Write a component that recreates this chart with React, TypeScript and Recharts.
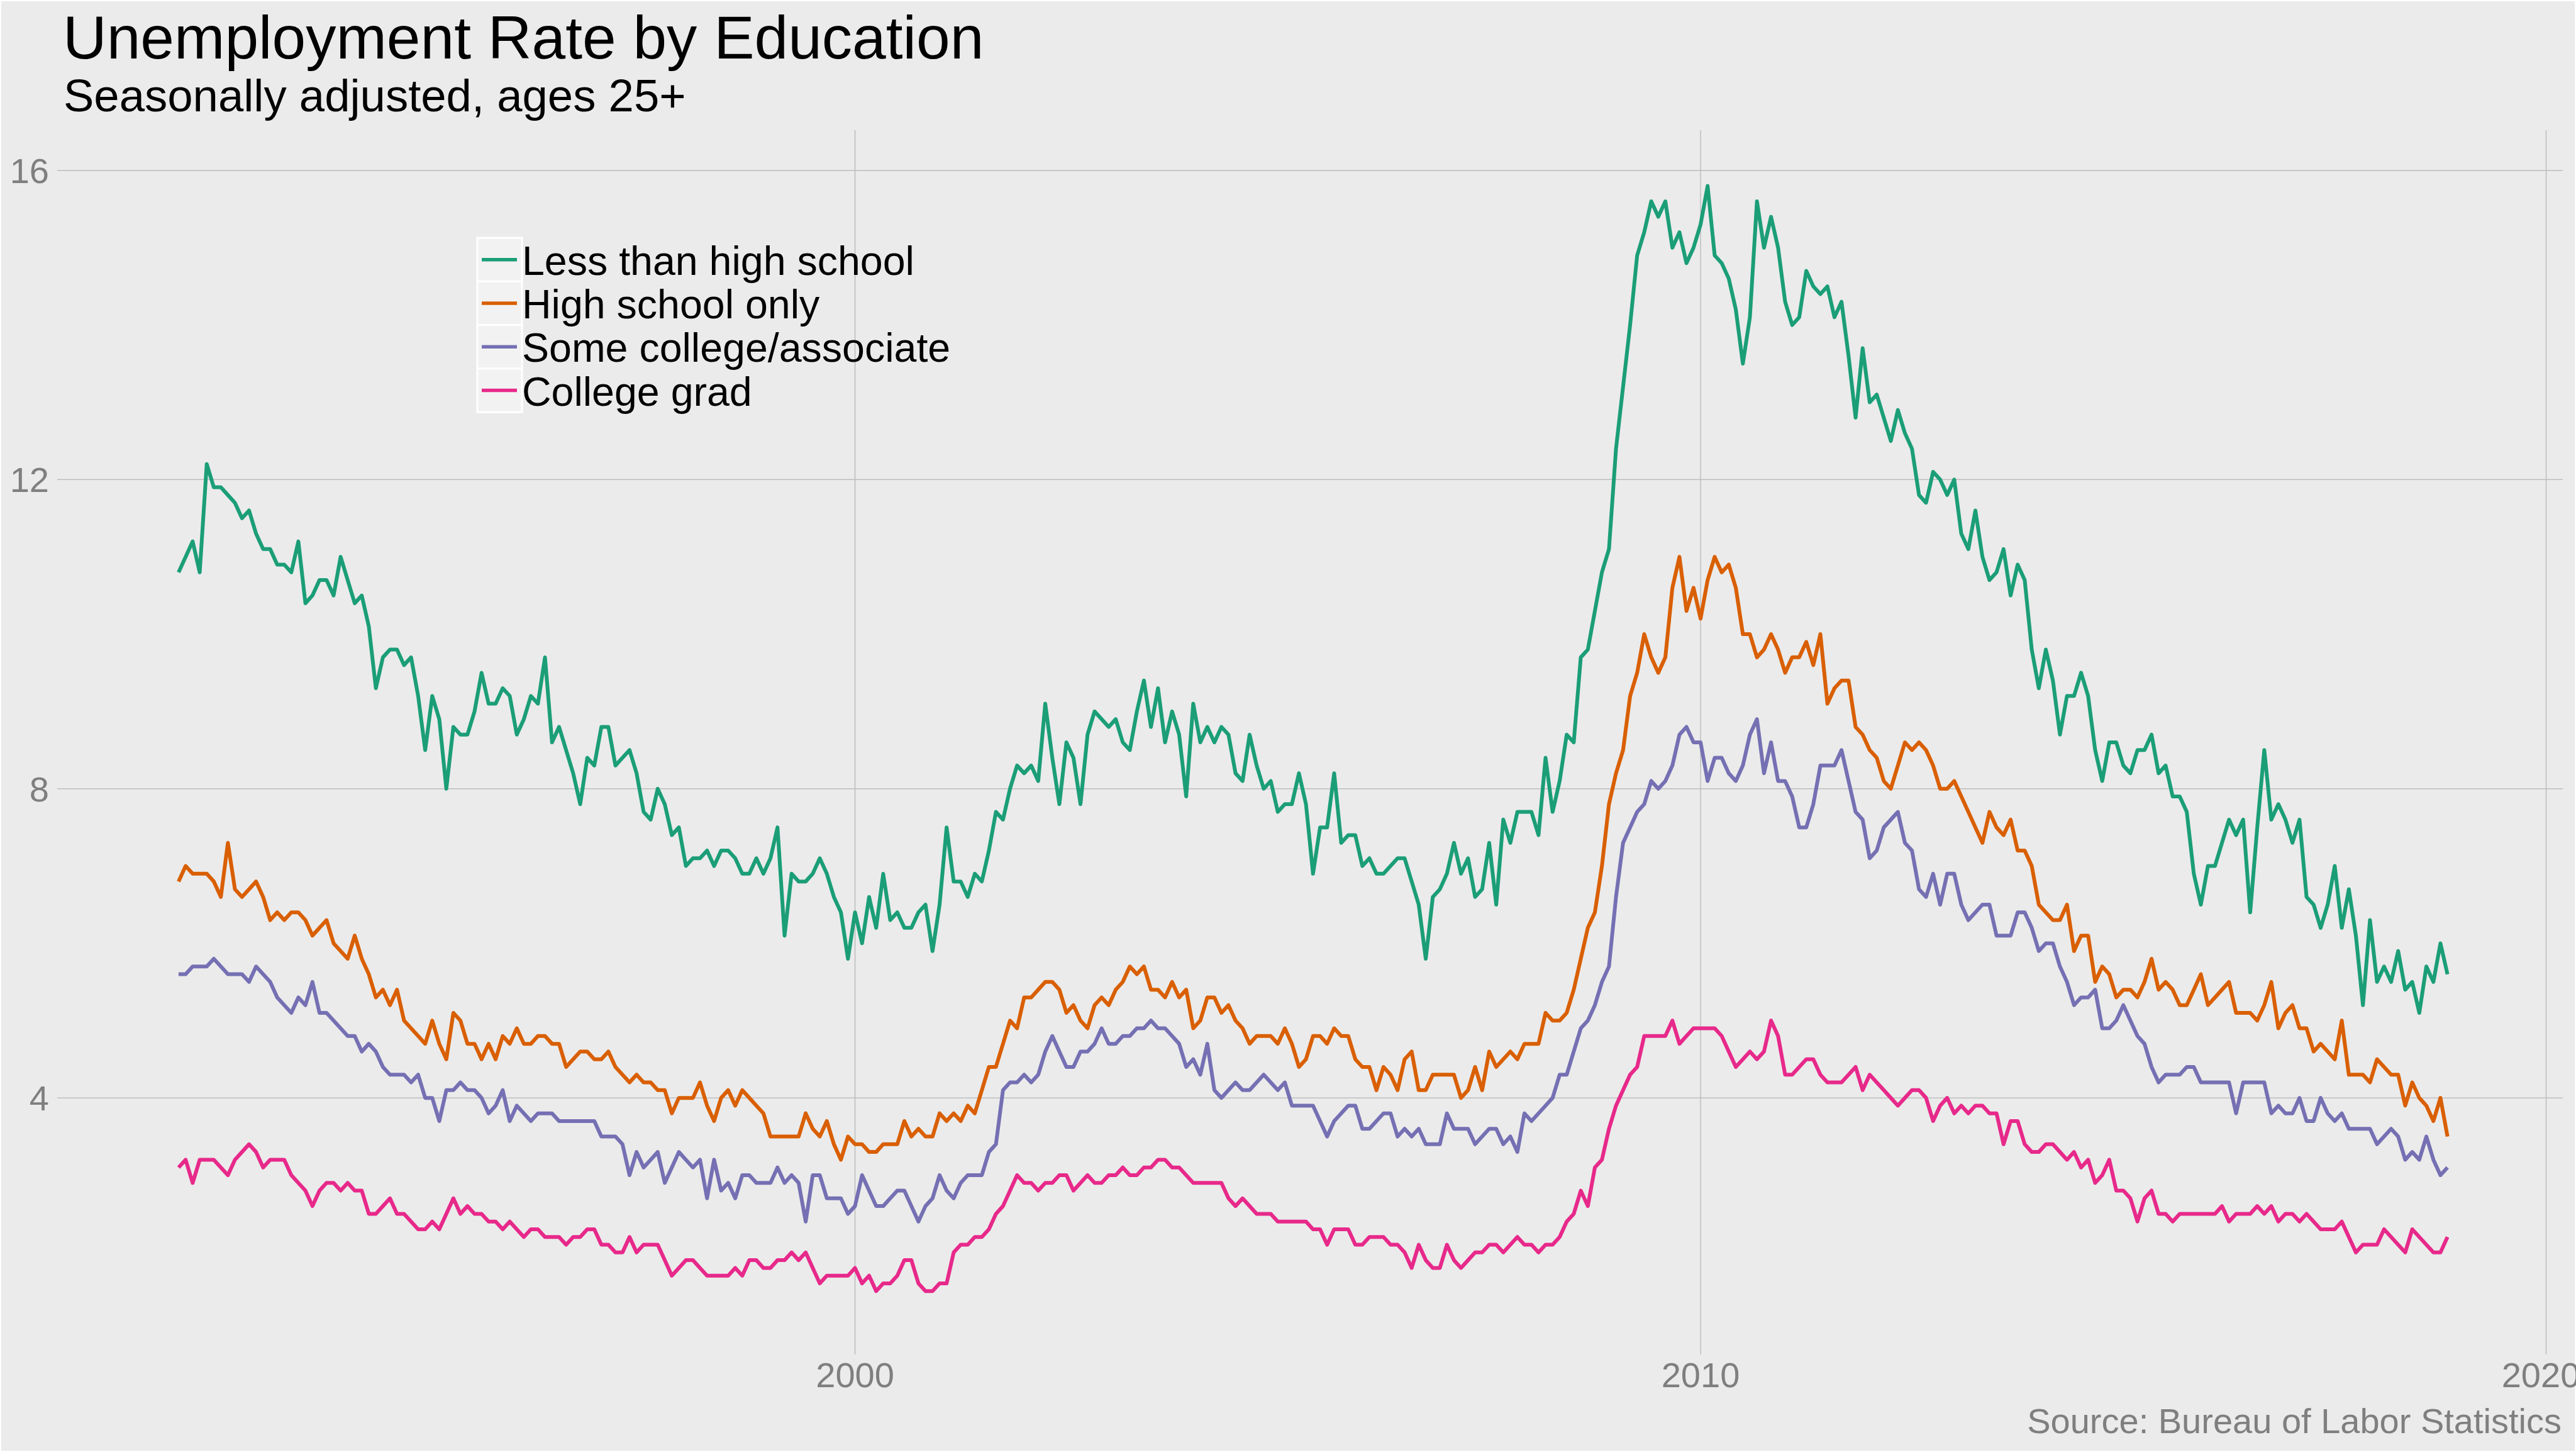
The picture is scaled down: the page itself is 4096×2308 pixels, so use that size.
import { LineChart, Line, XAxis, YAxis, ReferenceLine, Legend } from 'recharts';

// monthly, Jan 1992 .. Nov 2018
const startYear = 1992;

const lessThanHighSchool = [
  10.8, 11.0, 11.2, 10.8, 12.2, 11.9, 11.9, 11.8, 11.7, 11.5, 11.6, 11.3, // 1992
  11.1, 11.1, 10.9, 10.9, 10.8, 11.2, 10.4, 10.5, 10.7, 10.7, 10.5, 11.0, // 1993
  10.7, 10.4, 10.5, 10.1, 9.3, 9.7, 9.8, 9.8, 9.6, 9.7, 9.2, 8.5, // 1994
  9.2, 8.9, 8.0, 8.8, 8.7, 8.7, 9.0, 9.5, 9.1, 9.1, 9.3, 9.2, // 1995
  8.7, 8.9, 9.2, 9.1, 9.7, 8.6, 8.8, 8.5, 8.2, 7.8, 8.4, 8.3, // 1996
  8.8, 8.8, 8.3, 8.4, 8.5, 8.2, 7.7, 7.6, 8.0, 7.8, 7.4, 7.5, // 1997
  7.0, 7.1, 7.1, 7.2, 7.0, 7.2, 7.2, 7.1, 6.9, 6.9, 7.1, 6.9, // 1998
  7.1, 7.5, 6.1, 6.9, 6.8, 6.8, 6.9, 7.1, 6.9, 6.6, 6.4, 5.8, // 1999
  6.4, 6.0, 6.6, 6.2, 6.9, 6.3, 6.4, 6.2, 6.2, 6.4, 6.5, 5.9, // 2000
  6.5, 7.5, 6.8, 6.8, 6.6, 6.9, 6.8, 7.2, 7.7, 7.6, 8.0, 8.3, // 2001
  8.2, 8.3, 8.1, 9.1, 8.4, 7.8, 8.6, 8.4, 7.8, 8.7, 9.0, 8.9, // 2002
  8.8, 8.9, 8.6, 8.5, 9.0, 9.4, 8.8, 9.3, 8.6, 9.0, 8.7, 7.9, // 2003
  9.1, 8.6, 8.8, 8.6, 8.8, 8.7, 8.2, 8.1, 8.7, 8.3, 8.0, 8.1, // 2004
  7.7, 7.8, 7.8, 8.2, 7.8, 6.9, 7.5, 7.5, 8.2, 7.3, 7.4, 7.4, // 2005
  7.0, 7.1, 6.9, 6.9, 7.0, 7.1, 7.1, 6.8, 6.5, 5.8, 6.6, 6.7, // 2006
  6.9, 7.3, 6.9, 7.1, 6.6, 6.7, 7.3, 6.5, 7.6, 7.3, 7.7, 7.7, // 2007
  7.7, 7.4, 8.4, 7.7, 8.1, 8.7, 8.6, 9.7, 9.8, 10.3, 10.8, 11.1, // 2008
  12.4, 13.2, 14.0, 14.9, 15.2, 15.6, 15.4, 15.6, 15.0, 15.2, 14.8, 15.0, // 2009
  15.3, 15.8, 14.9, 14.8, 14.6, 14.2, 13.5, 14.1, 15.6, 15.0, 15.4, 15.0, // 2010
  14.3, 14.0, 14.1, 14.7, 14.5, 14.4, 14.5, 14.1, 14.3, 13.6, 12.8, 13.7, // 2011
  13.0, 13.1, 12.8, 12.5, 12.9, 12.6, 12.4, 11.8, 11.7, 12.1, 12.0, 11.8, // 2012
  12.0, 11.3, 11.1, 11.6, 11.0, 10.7, 10.8, 11.1, 10.5, 10.9, 10.7, 9.8, // 2013
  9.3, 9.8, 9.4, 8.7, 9.2, 9.2, 9.5, 9.2, 8.5, 8.1, 8.6, 8.6, // 2014
  8.3, 8.2, 8.5, 8.5, 8.7, 8.2, 8.3, 7.9, 7.9, 7.7, 6.9, 6.5, // 2015
  7.0, 7.0, 7.3, 7.6, 7.4, 7.6, 6.4, 7.5, 8.5, 7.6, 7.8, 7.6, // 2016
  7.3, 7.6, 6.6, 6.5, 6.2, 6.5, 7.0, 6.2, 6.7, 6.1, 5.2, 6.3, // 2017
  5.5, 5.7, 5.5, 5.9, 5.4, 5.5, 5.1, 5.7, 5.5, 6.0, 5.6, // 2018
];

const highSchoolOnly = [
  6.8, 7.0, 6.9, 6.9, 6.9, 6.8, 6.6, 7.3, 6.7, 6.6, 6.7, 6.8, // 1992
  6.6, 6.3, 6.4, 6.3, 6.4, 6.4, 6.3, 6.1, 6.2, 6.3, 6.0, 5.9, // 1993
  5.8, 6.1, 5.8, 5.6, 5.3, 5.4, 5.2, 5.4, 5.0, 4.9, 4.8, 4.7, // 1994
  5.0, 4.7, 4.5, 5.1, 5.0, 4.7, 4.7, 4.5, 4.7, 4.5, 4.8, 4.7, // 1995
  4.9, 4.7, 4.7, 4.8, 4.8, 4.7, 4.7, 4.4, 4.5, 4.6, 4.6, 4.5, // 1996
  4.5, 4.6, 4.4, 4.3, 4.2, 4.3, 4.2, 4.2, 4.1, 4.1, 3.8, 4.0, // 1997
  4.0, 4.0, 4.2, 3.9, 3.7, 4.0, 4.1, 3.9, 4.1, 4.0, 3.9, 3.8, // 1998
  3.5, 3.5, 3.5, 3.5, 3.5, 3.8, 3.6, 3.5, 3.7, 3.4, 3.2, 3.5, // 1999
  3.4, 3.4, 3.3, 3.3, 3.4, 3.4, 3.4, 3.7, 3.5, 3.6, 3.5, 3.5, // 2000
  3.8, 3.7, 3.8, 3.7, 3.9, 3.8, 4.1, 4.4, 4.4, 4.7, 5.0, 4.9, // 2001
  5.3, 5.3, 5.4, 5.5, 5.5, 5.4, 5.1, 5.2, 5.0, 4.9, 5.2, 5.3, // 2002
  5.2, 5.4, 5.5, 5.7, 5.6, 5.7, 5.4, 5.4, 5.3, 5.5, 5.3, 5.4, // 2003
  4.9, 5.0, 5.3, 5.3, 5.1, 5.2, 5.0, 4.9, 4.7, 4.8, 4.8, 4.8, // 2004
  4.7, 4.9, 4.7, 4.4, 4.5, 4.8, 4.8, 4.7, 4.9, 4.8, 4.8, 4.5, // 2005
  4.4, 4.4, 4.1, 4.4, 4.3, 4.1, 4.5, 4.6, 4.1, 4.1, 4.3, 4.3, // 2006
  4.3, 4.3, 4.0, 4.1, 4.4, 4.1, 4.6, 4.4, 4.5, 4.6, 4.5, 4.7, // 2007
  4.7, 4.7, 5.1, 5.0, 5.0, 5.1, 5.4, 5.8, 6.2, 6.4, 7.0, 7.8, // 2008
  8.2, 8.5, 9.2, 9.5, 10.0, 9.7, 9.5, 9.7, 10.6, 11.0, 10.3, 10.6, // 2009
  10.2, 10.7, 11.0, 10.8, 10.9, 10.6, 10.0, 10.0, 9.7, 9.8, 10.0, 9.8, // 2010
  9.5, 9.7, 9.7, 9.9, 9.6, 10.0, 9.1, 9.3, 9.4, 9.4, 8.8, 8.7, // 2011
  8.5, 8.4, 8.1, 8.0, 8.3, 8.6, 8.5, 8.6, 8.5, 8.3, 8.0, 8.0, // 2012
  8.1, 7.9, 7.7, 7.5, 7.3, 7.7, 7.5, 7.4, 7.6, 7.2, 7.2, 7.0, // 2013
  6.5, 6.4, 6.3, 6.3, 6.5, 5.9, 6.1, 6.1, 5.5, 5.7, 5.6, 5.3, // 2014
  5.4, 5.4, 5.3, 5.5, 5.8, 5.4, 5.5, 5.4, 5.2, 5.2, 5.4, 5.6, // 2015
  5.2, 5.3, 5.4, 5.5, 5.1, 5.1, 5.1, 5.0, 5.2, 5.5, 4.9, 5.1, // 2016
  5.2, 4.9, 4.9, 4.6, 4.7, 4.6, 4.5, 5.0, 4.3, 4.3, 4.3, 4.2, // 2017
  4.5, 4.4, 4.3, 4.3, 3.9, 4.2, 4.0, 3.9, 3.7, 4.0, 3.5, // 2018
];

const someCollege = [
  5.6, 5.6, 5.7, 5.7, 5.7, 5.8, 5.7, 5.6, 5.6, 5.6, 5.5, 5.7, // 1992
  5.6, 5.5, 5.3, 5.2, 5.1, 5.3, 5.2, 5.5, 5.1, 5.1, 5.0, 4.9, // 1993
  4.8, 4.8, 4.6, 4.7, 4.6, 4.4, 4.3, 4.3, 4.3, 4.2, 4.3, 4.0, // 1994
  4.0, 3.7, 4.1, 4.1, 4.2, 4.1, 4.1, 4.0, 3.8, 3.9, 4.1, 3.7, // 1995
  3.9, 3.8, 3.7, 3.8, 3.8, 3.8, 3.7, 3.7, 3.7, 3.7, 3.7, 3.7, // 1996
  3.5, 3.5, 3.5, 3.4, 3.0, 3.3, 3.1, 3.2, 3.3, 2.9, 3.1, 3.3, // 1997
  3.2, 3.1, 3.2, 2.7, 3.2, 2.8, 2.9, 2.7, 3.0, 3.0, 2.9, 2.9, // 1998
  2.9, 3.1, 2.9, 3.0, 2.9, 2.4, 3.0, 3.0, 2.7, 2.7, 2.7, 2.5, // 1999
  2.6, 3.0, 2.8, 2.6, 2.6, 2.7, 2.8, 2.8, 2.6, 2.4, 2.6, 2.7, // 2000
  3.0, 2.8, 2.7, 2.9, 3.0, 3.0, 3.0, 3.3, 3.4, 4.1, 4.2, 4.2, // 2001
  4.3, 4.2, 4.3, 4.6, 4.8, 4.6, 4.4, 4.4, 4.6, 4.6, 4.7, 4.9, // 2002
  4.7, 4.7, 4.8, 4.8, 4.9, 4.9, 5.0, 4.9, 4.9, 4.8, 4.7, 4.4, // 2003
  4.5, 4.3, 4.7, 4.1, 4.0, 4.1, 4.2, 4.1, 4.1, 4.2, 4.3, 4.2, // 2004
  4.1, 4.2, 3.9, 3.9, 3.9, 3.9, 3.7, 3.5, 3.7, 3.8, 3.9, 3.9, // 2005
  3.6, 3.6, 3.7, 3.8, 3.8, 3.5, 3.6, 3.5, 3.6, 3.4, 3.4, 3.4, // 2006
  3.8, 3.6, 3.6, 3.6, 3.4, 3.5, 3.6, 3.6, 3.4, 3.5, 3.3, 3.8, // 2007
  3.7, 3.8, 3.9, 4.0, 4.3, 4.3, 4.6, 4.9, 5.0, 5.2, 5.5, 5.7, // 2008
  6.6, 7.3, 7.5, 7.7, 7.8, 8.1, 8.0, 8.1, 8.3, 8.7, 8.8, 8.6, // 2009
  8.6, 8.1, 8.4, 8.4, 8.2, 8.1, 8.3, 8.7, 8.9, 8.2, 8.6, 8.1, // 2010
  8.1, 7.9, 7.5, 7.5, 7.8, 8.3, 8.3, 8.3, 8.5, 8.1, 7.7, 7.6, // 2011
  7.1, 7.2, 7.5, 7.6, 7.7, 7.3, 7.2, 6.7, 6.6, 6.9, 6.5, 6.9, // 2012
  6.9, 6.5, 6.3, 6.4, 6.5, 6.5, 6.1, 6.1, 6.1, 6.4, 6.4, 6.2, // 2013
  5.9, 6.0, 6.0, 5.7, 5.5, 5.2, 5.3, 5.3, 5.4, 4.9, 4.9, 5.0, // 2014
  5.2, 5.0, 4.8, 4.7, 4.4, 4.2, 4.3, 4.3, 4.3, 4.4, 4.4, 4.2, // 2015
  4.2, 4.2, 4.2, 4.2, 3.8, 4.2, 4.2, 4.2, 4.2, 3.8, 3.9, 3.8, // 2016
  3.8, 4.0, 3.7, 3.7, 4.0, 3.8, 3.7, 3.8, 3.6, 3.6, 3.6, 3.6, // 2017
  3.4, 3.5, 3.6, 3.5, 3.2, 3.3, 3.2, 3.5, 3.2, 3.0, 3.1, // 2018
];

const collegeGrad = [
  3.1, 3.2, 2.9, 3.2, 3.2, 3.2, 3.1, 3.0, 3.2, 3.3, 3.4, 3.3, // 1992
  3.1, 3.2, 3.2, 3.2, 3.0, 2.9, 2.8, 2.6, 2.8, 2.9, 2.9, 2.8, // 1993
  2.9, 2.8, 2.8, 2.5, 2.5, 2.6, 2.7, 2.5, 2.5, 2.4, 2.3, 2.3, // 1994
  2.4, 2.3, 2.5, 2.7, 2.5, 2.6, 2.5, 2.5, 2.4, 2.4, 2.3, 2.4, // 1995
  2.3, 2.2, 2.3, 2.3, 2.2, 2.2, 2.2, 2.1, 2.2, 2.2, 2.3, 2.3, // 1996
  2.1, 2.1, 2.0, 2.0, 2.2, 2.0, 2.1, 2.1, 2.1, 1.9, 1.7, 1.8, // 1997
  1.9, 1.9, 1.8, 1.7, 1.7, 1.7, 1.7, 1.8, 1.7, 1.9, 1.9, 1.8, // 1998
  1.8, 1.9, 1.9, 2.0, 1.9, 2.0, 1.8, 1.6, 1.7, 1.7, 1.7, 1.7, // 1999
  1.8, 1.6, 1.7, 1.5, 1.6, 1.6, 1.7, 1.9, 1.9, 1.6, 1.5, 1.5, // 2000
  1.6, 1.6, 2.0, 2.1, 2.1, 2.2, 2.2, 2.3, 2.5, 2.6, 2.8, 3.0, // 2001
  2.9, 2.9, 2.8, 2.9, 2.9, 3.0, 3.0, 2.8, 2.9, 3.0, 2.9, 2.9, // 2002
  3.0, 3.0, 3.1, 3.0, 3.0, 3.1, 3.1, 3.2, 3.2, 3.1, 3.1, 3.0, // 2003
  2.9, 2.9, 2.9, 2.9, 2.9, 2.7, 2.6, 2.7, 2.6, 2.5, 2.5, 2.5, // 2004
  2.4, 2.4, 2.4, 2.4, 2.4, 2.3, 2.3, 2.1, 2.3, 2.3, 2.3, 2.1, // 2005
  2.1, 2.2, 2.2, 2.2, 2.1, 2.1, 2.0, 1.8, 2.1, 1.9, 1.8, 1.8, // 2006
  2.1, 1.9, 1.8, 1.9, 2.0, 2.0, 2.1, 2.1, 2.0, 2.1, 2.2, 2.1, // 2007
  2.1, 2.0, 2.1, 2.1, 2.2, 2.4, 2.5, 2.8, 2.6, 3.1, 3.2, 3.6, // 2008
  3.9, 4.1, 4.3, 4.4, 4.8, 4.8, 4.8, 4.8, 5.0, 4.7, 4.8, 4.9, // 2009
  4.9, 4.9, 4.9, 4.8, 4.6, 4.4, 4.5, 4.6, 4.5, 4.6, 5.0, 4.8, // 2010
  4.3, 4.3, 4.4, 4.5, 4.5, 4.3, 4.2, 4.2, 4.2, 4.3, 4.4, 4.1, // 2011
  4.3, 4.2, 4.1, 4.0, 3.9, 4.0, 4.1, 4.1, 4.0, 3.7, 3.9, 4.0, // 2012
  3.8, 3.9, 3.8, 3.9, 3.9, 3.8, 3.8, 3.4, 3.7, 3.7, 3.4, 3.3, // 2013
  3.3, 3.4, 3.4, 3.3, 3.2, 3.3, 3.1, 3.2, 2.9, 3.0, 3.2, 2.8, // 2014
  2.8, 2.7, 2.4, 2.7, 2.8, 2.5, 2.5, 2.4, 2.5, 2.5, 2.5, 2.5, // 2015
  2.5, 2.5, 2.6, 2.4, 2.5, 2.5, 2.5, 2.6, 2.5, 2.6, 2.4, 2.5, // 2016
  2.5, 2.4, 2.5, 2.4, 2.3, 2.3, 2.3, 2.4, 2.2, 2.0, 2.1, 2.1, // 2017
  2.1, 2.3, 2.2, 2.1, 2.0, 2.3, 2.2, 2.1, 2.0, 2.0, 2.2, // 2018
];

const series = [
  { key: 'lths', name: 'Less than high school', color: '#1B9E77', values: lessThanHighSchool },
  { key: 'hs', name: 'High school only', color: '#D95F02', values: highSchoolOnly },
  { key: 'some', name: 'Some college/associate', color: '#7570B3', values: someCollege },
  { key: 'grad', name: 'College grad', color: '#E7298A', values: collegeGrad },
];

const xTicks = [2000, 2010, 2020];
const yTicks = [4, 8, 12, 16];

const data = lessThanHighSchool.map((_, i) => {
  const row: Record<string, number> = { t: startYear + i / 12 };
  series.forEach((s) => {
    row[s.key] = s.values[i];
  });
  return row;
});

const W = 4096;
const H = 2308;
const FONT = "'Liberation Sans', Arial, Helvetica, sans-serif";
const BG = '#EBEBEB';
const GREY = '#7F7F7F';
const GRID = '#BDBDBD';
const ROW = 69.3;

function LegendBox() {
  return (
    <svg width={760} height={4 * ROW + 4} style={{ display: 'block', overflow: 'visible' }}>
      {series.map((s, i) => (
        <g key={s.key} transform={`translate(0, ${i * ROW})`}>
          <rect x={0} y={0} width={71} height={ROW} fill="#F2F2F2" stroke="#FFFFFF" strokeWidth={3} />
          <line x1={7} x2={63} y1={ROW / 2} y2={ROW / 2} stroke={s.color} strokeWidth={5.5} />
          <text x={71} y={ROW / 2 + 24} fontSize={64.5} fill="#000000" fontFamily={FONT}>
            {s.name}
          </text>
        </g>
      ))}
    </svg>
  );
}

export default function App() {
  return (
    <div
      style={{
        position: 'absolute',
        left: 0,
        top: 0,
        width: W,
        height: H,
        background: BG,
        fontFamily: FONT,
        boxShadow: 'inset 0 0 0 2px #FFFFFF',
      }}
    >
      <LineChart width={W} height={H} data={data} margin={{ top: 207, right: 21, bottom: 0, left: 0 }}>
        <XAxis
          dataKey="t"
          type="number"
          domain={[1990.565, 2020.197]}
          ticks={xTicks}
          allowDataOverflow
          axisLine={false}
          tickLine={false}
          tickSize={0}
          tickMargin={12}
          height={155}
          tick={{ fill: GREY, fontSize: 56, fontFamily: FONT }}
        />
        <YAxis
          type="number"
          domain={[0.68, 16.52]}
          ticks={yTicks}
          allowDataOverflow
          axisLine={false}
          tickLine={false}
          tickSize={0}
          tickMargin={13}
          width={91}
          tick={{ fill: GREY, fontSize: 56, fontFamily: FONT }}
        />
        {yTicks.map((v) => (
          <ReferenceLine key={`y${v}`} y={v} stroke={GRID} strokeWidth={1.5} />
        ))}
        {xTicks.map((v) => (
          <ReferenceLine key={`x${v}`} x={v} stroke={GRID} strokeWidth={1.5} />
        ))}
        <Legend
          layout="vertical"
          align="center"
          verticalAlign="middle"
          content={() => <LegendBox />}
          wrapperStyle={{ left: 759, top: 378, width: 760, height: 4 * ROW + 4 }}
        />
        {series.map((s) => (
          <Line
            key={s.key}
            type="linear"
            dataKey={s.key}
            name={s.name}
            stroke={s.color}
            strokeWidth={6}
            strokeLinejoin="round"
            dot={false}
            activeDot={false}
            isAnimationActive={false}
          />
        ))}
      </LineChart>
      <svg
        width={W}
        height={H}
        style={{ position: 'absolute', left: 0, top: 0, pointerEvents: 'none' }}
      >
        <text x={100} y={93} fontSize={96.5} fill="#000000" fontFamily={FONT}>
          Unemployment Rate by Education
        </text>
        <text x={101} y={177} fontSize={72.5} fill="#000000" fontFamily={FONT}>
          Seasonally adjusted, ages 25+
        </text>
        <text x={4073} y={2278} fontSize={56} fill={GREY} fontFamily={FONT} textAnchor="end">
          Source: Bureau of Labor Statistics
        </text>
      </svg>
    </div>
  );
}
